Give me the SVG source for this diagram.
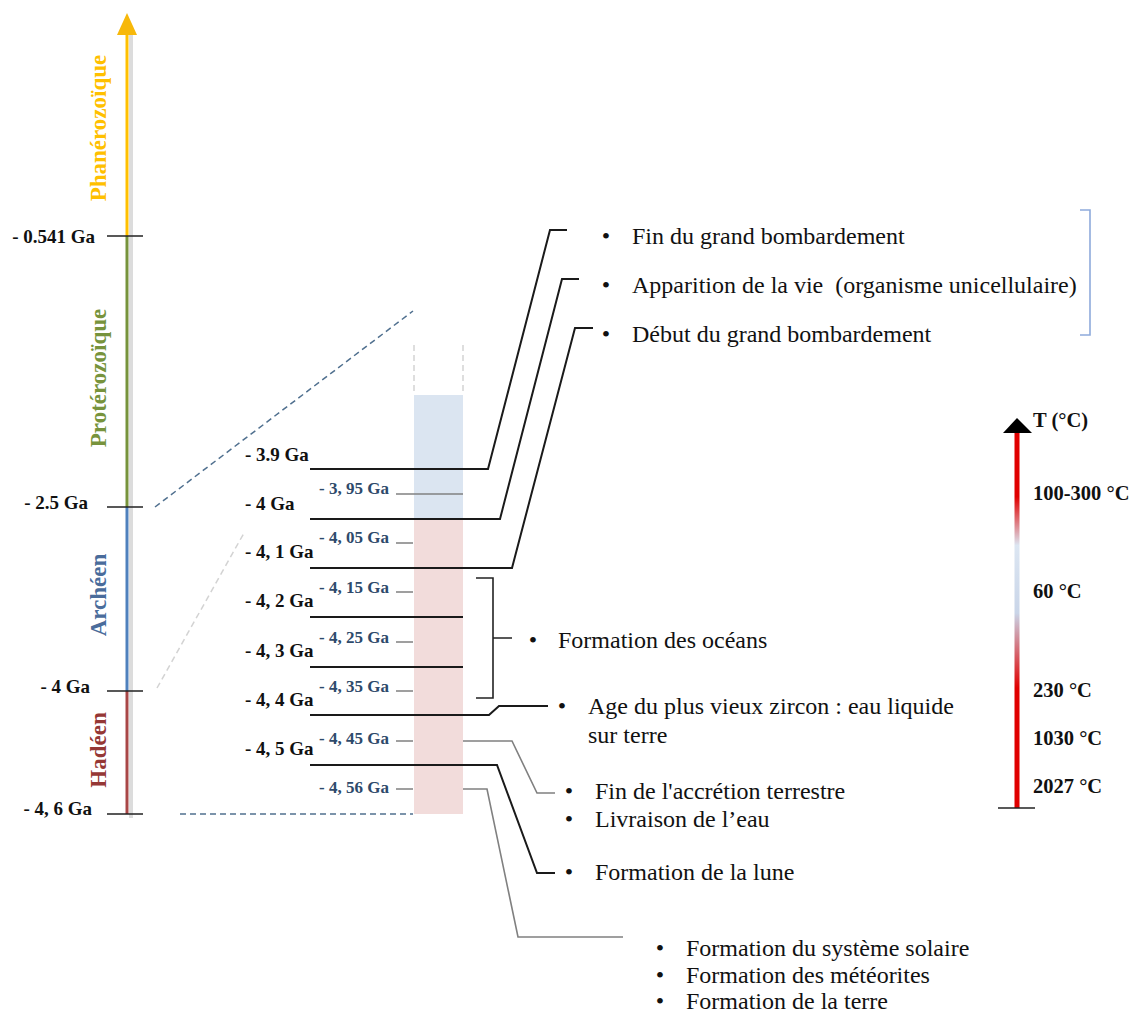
<svg xmlns="http://www.w3.org/2000/svg" width="1139" height="1014" viewBox="0 0 1139 1014">
<style>
.lbl{font-family:"Liberation Serif","Times New Roman",serif;font-weight:bold;font-size:19px;fill:#111}
.minor{font-family:"Liberation Serif","Times New Roman",serif;font-weight:bold;font-size:17px;fill:#2E4A6B}
.txt{font-family:"Liberation Serif","Times New Roman",serif;font-size:24px;fill:#111}
.bul{font-family:"Liberation Serif","Times New Roman",serif;font-size:24px;fill:#111;text-anchor:middle}
.temp{font-family:"Liberation Serif","Times New Roman",serif;font-weight:bold;font-size:20.5px;fill:#111}
.period{font-family:"Liberation Serif","Times New Roman",serif;font-weight:bold;font-size:23px;text-anchor:middle}
.tick{stroke:#222;stroke-width:1.6;fill:none}
.major{stroke:#1a1a1a;stroke-width:2;fill:none}
.grey{stroke:#808080;stroke-width:1.6;fill:none}
.dash{stroke:#50708F;stroke-width:1.5;stroke-dasharray:6 4;fill:none}
.ldash{stroke:#d3d3d3;stroke-width:1.5;stroke-dasharray:6 4;fill:none}
</style>
<defs>
<linearGradient id="tgrad" gradientUnits="userSpaceOnUse" x1="0" y1="433" x2="0" y2="808">
<stop offset="0" stop-color="#E00000"/>
<stop offset="0.17" stop-color="#E00000"/>
<stop offset="0.30" stop-color="#DCE6F2"/>
<stop offset="0.48" stop-color="#C9D5E8"/>
<stop offset="0.68" stop-color="#E00000"/>
<stop offset="1" stop-color="#E00000"/>
</linearGradient>
</defs>
<rect width="1139" height="1014" fill="#fff"/>

<g id="geologic-axis">
<line x1="131" y1="35" x2="131" y2="818" stroke="#dcdcdc" stroke-width="4"/>
<line x1="127" y1="35" x2="127" y2="236" stroke="#FFC000" stroke-width="3"/>
<line x1="127" y1="236" x2="127" y2="507" stroke="#77933C" stroke-width="3"/>
<line x1="127" y1="507" x2="127" y2="691" stroke="#4F81BD" stroke-width="3"/>
<line x1="127" y1="691" x2="127" y2="814" stroke="#A84646" stroke-width="3"/>
<polygon points="127,13 117,35 137,35" fill="#F7B80A"/>
<path class="tick" d="M107,236H143M107,507H143M107,691H143M107,814H143"/>
<text class="lbl" x="95" y="243" text-anchor="end">- 0.541 Ga</text>
<text class="lbl" x="88" y="509" text-anchor="end">- 2.5 Ga</text>
<text class="lbl" x="90" y="693" text-anchor="end">- 4 Ga</text>
<text class="lbl" x="92" y="815" text-anchor="end">- 4, 6 Ga</text>
</g>

<g id="periods">
<text class="period" fill="#FFC000" transform="translate(106,128) rotate(-90)">Phanérozoïque</text>
<text class="period" fill="#77933C" transform="translate(106,378) rotate(-90)">Protérozoïque</text>
<text class="period" fill="#4A6C9B" transform="translate(106,595) rotate(-90)">Archéen</text>
<text class="period" fill="#953735" transform="translate(106,750) rotate(-90)">Hadéen</text>
</g>

<g id="zoom-column">
<rect x="414" y="395" width="49" height="124" fill="#DBE5F1"/>
<rect x="414" y="519" width="49" height="295" fill="#F2DCDB"/>
<path class="ldash" d="M414,345V393M463,345V393"/>
</g>

<g id="zoom-guides">
<path class="dash" d="M155,507L413,311"/>
<path class="dash" d="M180,814H413"/>
<path class="ldash" d="M157,688L244,533"/>
</g>

<g id="major-labels">
<text class="lbl" x="245" y="461">- 3.9 Ga</text>
<text class="lbl" x="245" y="510">- 4 Ga</text>
<text class="lbl" x="245" y="558">- 4, 1 Ga</text>
<text class="lbl" x="245" y="607">- 4, 2 Ga</text>
<text class="lbl" x="245" y="657">- 4, 3 Ga</text>
<text class="lbl" x="245" y="706">- 4, 4 Ga</text>
<text class="lbl" x="245" y="755">- 4, 5 Ga</text>
</g>

<g id="minor-labels">
<text class="minor" x="319" y="494">- 3, 95 Ga</text>
<text class="minor" x="319" y="543">- 4, 05 Ga</text>
<text class="minor" x="319" y="593">- 4, 15 Ga</text>
<text class="minor" x="319" y="643">- 4, 25 Ga</text>
<text class="minor" x="319" y="692">- 4, 35 Ga</text>
<text class="minor" x="319" y="744">- 4, 45 Ga</text>
<text class="minor" x="319" y="793">- 4, 56 Ga</text>
</g>

<g id="connectors">
<path class="major" d="M310,469H488L550,230H567"/>
<path class="major" d="M310,519H500L562,279H579"/>
<path class="major" d="M310,568H512L575,328H593"/>
<path class="major" d="M310,617H463"/>
<path class="major" d="M310,667H463"/>
<path class="major" d="M310,715H489L499,706H548"/>
<path class="major" d="M310,765H497L537,873H555"/>
<path class="grey" d="M396,494H463"/>
<path class="grey" d="M396,543H413M396,592H413M396,642H413M396,691H413M396,741H413M396,789H413"/>
<path class="grey" d="M463,741H512L537,793H555"/>
<path class="grey" d="M463,789H487L518,937H623"/>
<path class="tick" d="M476,578H493V698H476M493,638H512"/>
<path d="M1080,210H1090V335H1080" stroke="#8EAADB" stroke-width="1.6" fill="none"/>
</g>

<g id="event-late-bombardment-end">
<text class="bul" x="606" y="244">•</text>
<text class="txt" x="632" y="244">Fin du grand bombardement</text>
</g>
<g id="event-life">
<text class="bul" x="606" y="293">•</text>
<text class="txt" x="632" y="293">Apparition de la vie&#160; (organisme unicellulaire)</text>
</g>
<g id="event-late-bombardment-start">
<text class="bul" x="606" y="342">•</text>
<text class="txt" x="632" y="342">Début du grand bombardement</text>
</g>
<g id="event-oceans">
<text class="bul" x="533" y="648">•</text>
<text class="txt" x="558" y="648">Formation des océans</text>
</g>
<g id="event-zircon">
<text class="bul" x="562" y="714">•</text>
<text class="txt" x="588" y="714">Age du plus vieux zircon : eau liquide</text>
<text class="txt" x="588" y="743">sur terre</text>
</g>
<g id="event-accretion">
<text class="bul" x="569" y="799">•</text>
<text class="txt" x="595" y="799">Fin de l'accrétion terrestre</text>
<text class="bul" x="569" y="827">•</text>
<text class="txt" x="595" y="827">Livraison de l’eau</text>
</g>
<g id="event-moon">
<text class="bul" x="569" y="880">•</text>
<text class="txt" x="595" y="880">Formation de la lune</text>
</g>
<g id="event-solar-system">
<text class="bul" x="660" y="956">•</text>
<text class="txt" x="686" y="956">Formation du système solaire</text>
<text class="bul" x="660" y="983">•</text>
<text class="txt" x="686" y="983">Formation des météorites</text>
<text class="bul" x="660" y="1009">•</text>
<text class="txt" x="686" y="1009">Formation de la terre</text>
</g>

<g id="temperature-scale">
<rect x="1014.5" y="433" width="5" height="375" fill="url(#tgrad)"/>
<polygon points="1017,418 1003,433 1032,433" fill="#000"/>
<path class="tick" d="M998,808H1035"/>
<text class="temp" x="1033" y="427">T (°C)</text>
<text class="temp" x="1033" y="500">100-300 °C</text>
<text class="temp" x="1033" y="598">60 °C</text>
<text class="temp" x="1033" y="697">230 °C</text>
<text class="temp" x="1033" y="745">1030 °C</text>
<text class="temp" x="1033" y="793">2027 °C</text>
</g>
</svg>
